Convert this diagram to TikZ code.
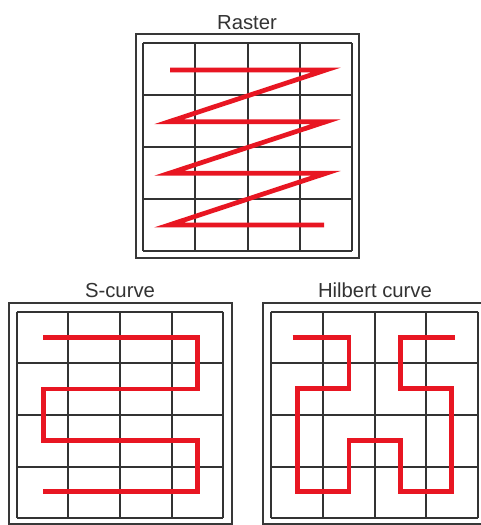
\documentclass[tikz,border=0pt]{standalone}
\usepackage{fontspec}
\setmainfont{Liberation Sans}
\begin{document}
\begin{tikzpicture}[x=1pt,y=-1pt,
  frame/.style={draw=black!78,line width=1.9pt},
  gridline/.style={draw=black!80,line width=2pt},
  title/.style={font=\fontsize{20.3}{20}\selectfont,text=black!80,inner sep=0pt,anchor=base}]
\definecolor{curvered}{RGB}{232,22,34}
\tikzset{curve/.style={draw=curvered,line width=4.7pt}}
\useasboundingbox (0,0) rectangle (480,525);
\fill[white] (0,0) rectangle (480,525);
% ---------- Raster ----------
\node[title] (traster) at (247,29) {Raster};
\draw[frame] (135.7,34) rectangle (359,258);
\foreach \i in {0,...,4}{
  \draw[gridline] (143.3+52.1*\i,43) -- (143.3+52.1*\i,251.4);
  \draw[gridline] (143.3,43+52.1*\i) -- (351.7,43+52.1*\i);
}
\draw[curve,line join=miter,miter limit=10]
  (170,70) -- (326,70) -- (169,121.7) -- (326,121.7) -- (169,173.3)
  -- (326,173.3) -- (169,225) -- (324,225);
% ---------- S-curve ----------
\node[title] (tscurve) at (120,297) {S-curve};
\draw[frame] (9,303.3) rectangle (231.7,524);
\foreach \i in {0,...,4}{
  \draw[gridline] (16.7+51.65*\i,311.7) -- (16.7+51.65*\i,518.3);
  \draw[gridline] (16.7,311.7+51.65*\i) -- (223.3,311.7+51.65*\i);
}
\draw[curve,line join=miter]
  (43.3,337.7) -- (197.3,337.7) -- (197.3,389) -- (43.3,389) -- (43.3,440.7)
  -- (197.3,440.7) -- (197.3,491.7) -- (43.3,491.7);
% ---------- Hilbert curve ----------
\node[title] (thilbert) at (375,297) {Hilbert curve};
\draw[frame] (263.3,303.3) rectangle (486,524);
\foreach \i in {0,...,4}{
  \draw[gridline] (270.7+51.9*\i,311.7) -- (270.7+51.9*\i,518.3);
  \draw[gridline] (270.7,311.7+51.65*\i) -- (478.3,311.7+51.65*\i);
}
\draw[curve,line join=miter]
  (292.7,337.7) -- (349,337.7) -- (349,388.3) -- (297.3,388.3) -- (297.3,491.7)
  -- (349,491.7) -- (349,440.7) -- (400.7,440.7) -- (400.7,491.7)
  -- (451.7,491.7) -- (451.7,388.3) -- (400.7,388.3) -- (400.7,337.7)
  -- (455,337.7);
\end{tikzpicture}
\end{document}
